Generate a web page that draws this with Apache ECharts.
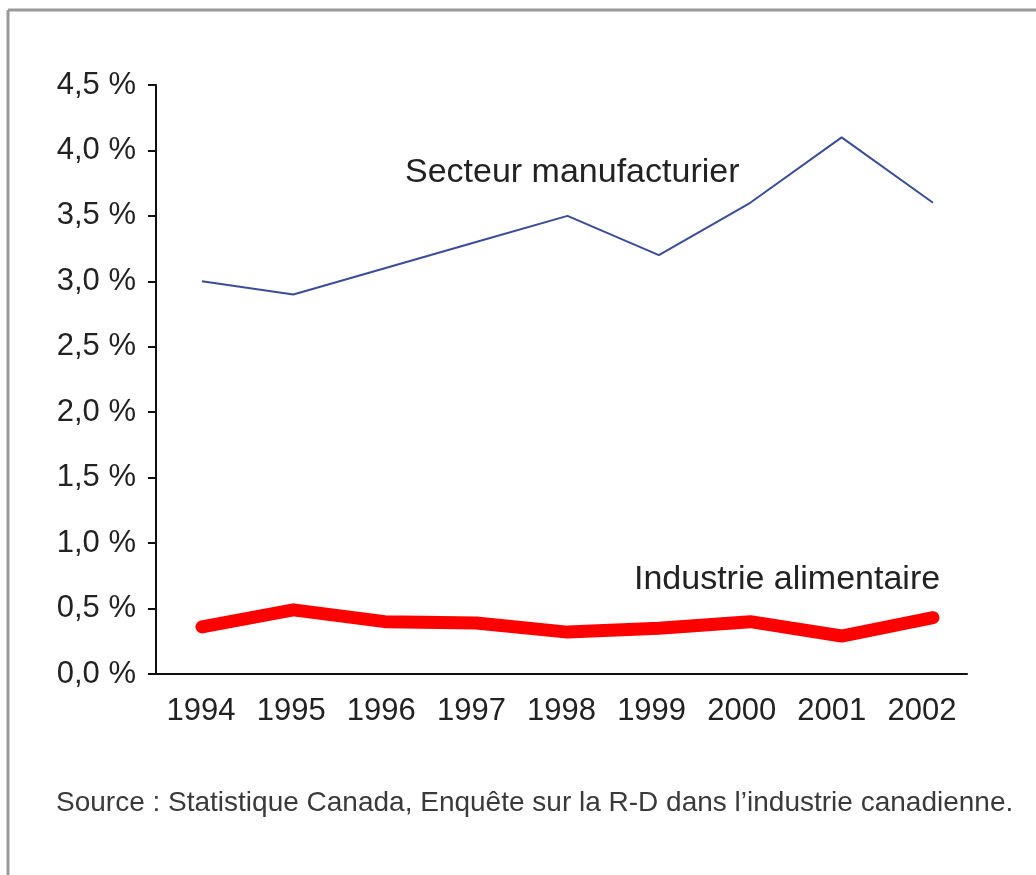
<!DOCTYPE html>
<html>
<head>
<meta charset="utf-8">
<script src="https://cdn.jsdelivr.net/npm/echarts@6/dist/echarts.min.js"></script>
<style>
  html, body { margin: 0; padding: 0; background: #fff; }
  #chart { width: 1036px; height: 875px; }
</style>
</head>
<body>
<div id="chart"></div>
<script>
// données
const years = ['1994', '1995', '1996', '1997', '1998', '1999', '2000', '2001', '2002'];
const manufacturier = [3.0, 2.9, 3.1, 3.3, 3.5, 3.2, 3.6, 4.1, 3.6];
const alimentaire = [0.36, 0.49, 0.40, 0.39, 0.32, 0.35, 0.40, 0.29, 0.43];
const yTicks = [0, 0.5, 1, 1.5, 2, 2.5, 3, 3.5, 4, 4.5];

const FONT = '"Liberation Sans", Arial, sans-serif';

const chart = echarts.init(document.getElementById('chart'));

// points placés sur un axe de valeurs caché (ils ne tombent pas pile au centre des catégories)
const pts = arr => arr.map((v, i) => [Number(years[i]), v]);

chart.setOption({
    animation: false,
    backgroundColor: '#fff',
    grid: { left: 156, right: 69, top: 85, bottom: 201, containLabel: false },
    xAxis: [
        {
            type: 'category',
            data: years,
            boundaryGap: true,
            axisLine: { lineStyle: { color: '#111', width: 2 } },
            axisTick: { length: 7, lineStyle: { color: '#111', width: 2 } },
            axisLabel: { color: '#222', fontSize: 31, fontFamily: FONT, margin: 22 }
        },
        {
            type: 'value',
            min: 1993.497,
            max: 2002.372,
            show: false
        }
    ],
    yAxis: {
        type: 'value',
        min: yTicks[0],
        max: yTicks[yTicks.length - 1],
        interval: 0.5,
        splitLine: { show: false },
        axisLine: { show: true, lineStyle: { color: '#111', width: 2 } },
        axisTick: { show: true, length: 8, lineStyle: { color: '#111', width: 2 } },
        axisLabel: {
            color: '#222',
            fontSize: 31,
            fontFamily: FONT,
            margin: 20,
            formatter: v => v.toFixed(1).replace('.', ',') + ' %'
        }
    },
    series: [
        {
            name: 'Secteur manufacturier',
            type: 'line',
            xAxisIndex: 1,
            data: pts(manufacturier),
            symbol: 'none',
            lineStyle: { color: '#3a4d98', width: 2 }
        },
        {
            name: 'Industrie alimentaire',
            type: 'line',
            xAxisIndex: 1,
            data: pts(alimentaire),
            symbol: 'none',
            lineStyle: { color: '#ff0000', width: 13, cap: 'round', join: 'round' }
        }
    ],
    graphic: [
        // cadre gris (haut et gauche)
        { type: 'line', shape: { x1: 8, y1: 10, x2: 1036, y2: 10 }, style: { stroke: '#999', lineWidth: 3 } },
        { type: 'line', shape: { x1: 8, y1: 10, x2: 8, y2: 875 }, style: { stroke: '#999', lineWidth: 3 } },
        {
            type: 'text', left: 405, top: 156,
            style: { text: 'Secteur manufacturier', font: '34px ' + FONT, fill: '#222' }
        },
        {
            type: 'text', left: 634, top: 563,
            style: { text: 'Industrie alimentaire', font: '34px ' + FONT, fill: '#222' }
        },
        {
            type: 'text', x: 56, y: 789,
            style: {
                text: 'Source : Statistique Canada, Enquête sur la R-D dans l\u2019industrie canadienne.',
                font: '28px ' + FONT, fill: '#3a3a3a'
            }
        }
    ]
});
</script>
</body>
</html>
